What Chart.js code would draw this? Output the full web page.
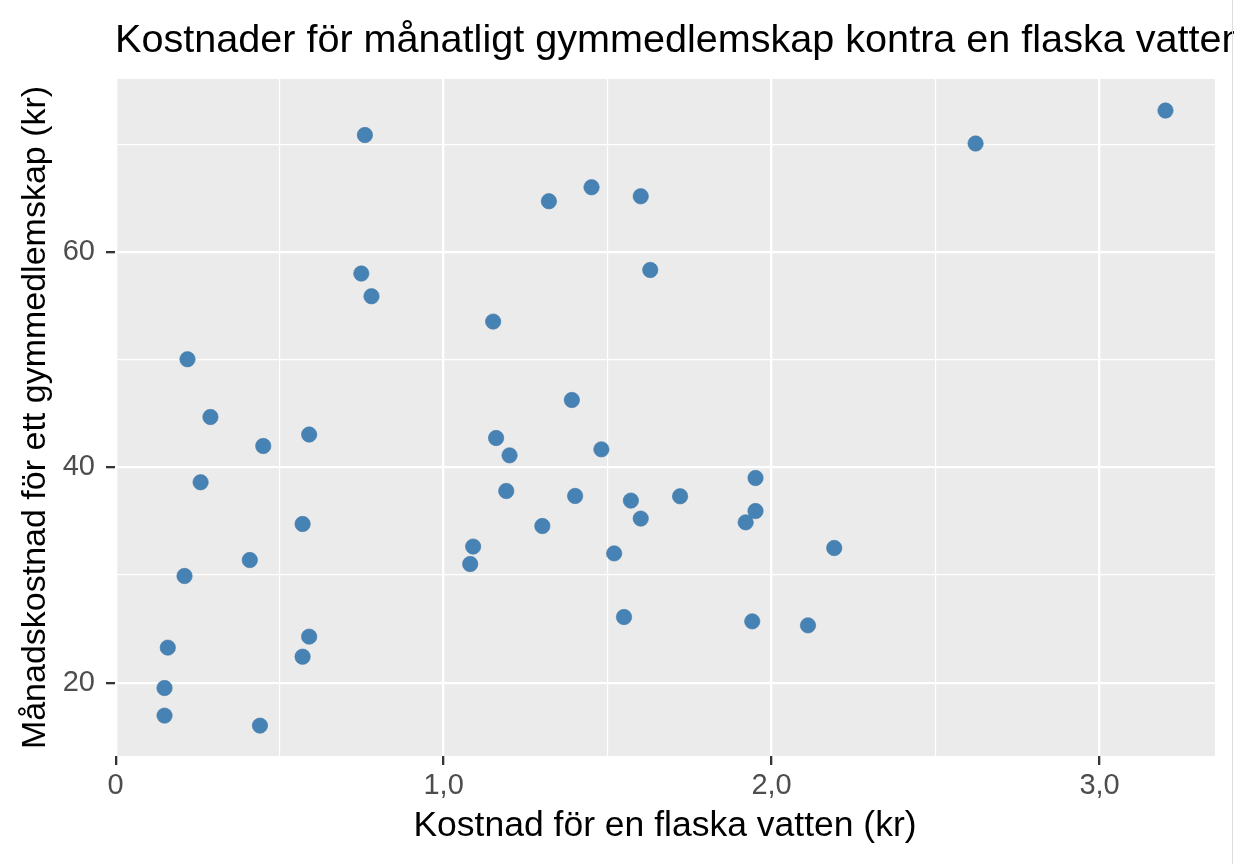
<!DOCTYPE html>
<html>
<head>
<meta charset="utf-8">
<script src="https://cdn.jsdelivr.net/npm/chart.js@4.4.1/dist/chart.umd.min.js"></script>
<style>
  html, body { margin: 0; padding: 0; background: #ffffff; }
  #wrap { width: 1234px; height: 864px; position: relative; }
</style>
</head>
<body>
<div id="wrap"><canvas id="c" width="1234" height="864"></canvas></div>
<script>
// ---- data ----
const chartTitle = 'Kostnader för månatligt gymmedlemskap kontra en flaska vatten';
const xAxisTitle = 'Kostnad för en flaska vatten (kr)';
const yAxisTitle = 'Månadskostnad för ett gymmedlemskap (kr)';

const waterCost = [0.149, 0.149, 0.159, 0.210, 0.219, 0.259, 0.289, 0.409, 0.440, 0.450,
                   0.570, 0.570, 0.590, 0.590, 0.749, 0.760, 0.780, 1.081, 1.090, 1.151,
                   1.160, 1.191, 1.201, 1.301, 1.321, 1.391, 1.401, 1.451, 1.481, 1.520,
                   1.550, 1.571, 1.601, 1.601, 1.630, 1.721, 1.921, 1.941, 1.951, 1.951,
                   2.111, 2.191, 2.622, 3.201];
const gymCost   = [16.95, 19.51, 23.26, 29.91, 50.03, 38.61, 44.67, 31.39, 16.02, 41.98,
                   34.74, 22.42, 24.28, 43.04, 57.99, 70.85, 55.88, 31.02, 32.64, 53.53,
                   42.72, 37.80, 41.11, 34.55, 64.70, 46.25, 37.34, 66.00, 41.67, 32.01,
                   26.10, 36.91, 35.24, 65.16, 58.32, 37.31, 34.89, 25.70, 39.01, 35.94,
                   25.33, 32.51, 70.06, 73.12];

const xTickValues = [0, 1, 2, 3];
const xTickLabels = ['0', '1,0', '2,0', '3,0'];
const xMinorValues = [0.5, 1.5, 2.5];
const yTickValues = [20, 40, 60];
const yTickLabels = ['20', '40', '60'];
const yMinorValues = [30, 50, 70];

const xLimits = [-0.002, 3.352];
const yLimits = [13.2, 76.05];

// ---- helpers ----
const points = waterCost.map((x, i) => ({ x: x, y: gymCost[i] }));
const isMajor = (vals, v) => vals.some(m => Math.abs(m - v) < 1e-9);
function labelFor(vals, labels, v) {
  const i = vals.findIndex(m => Math.abs(m - v) < 1e-9);
  return i >= 0 ? labels[i] : '';
}

const FONT = "'Liberation Sans', Arial, Helvetica, sans-serif";

const panelPlugin = {
  id: 'panel',
  beforeDraw(chart) {
    const { ctx, chartArea: a } = chart;
    ctx.save();
    ctx.fillStyle = '#EBEBEB';
    ctx.fillRect(a.left, a.top, a.right - a.left, a.bottom - a.top);
    ctx.restore();
  },
  afterDraw(chart) {
    const { ctx, chartArea: a } = chart;
    ctx.save();
    ctx.fillStyle = '#000000';
    ctx.font = '39.6px ' + FONT;
    ctx.textAlign = 'left';
    ctx.textBaseline = 'alphabetic';
    ctx.fillText(chartTitle, a.left, 52);
    ctx.strokeStyle = '#dcdcdc';
    ctx.lineWidth = 1;
    ctx.beginPath();
    ctx.moveTo(1232.5, 0);
    ctx.lineTo(1232.5, 864);
    ctx.stroke();
    ctx.restore();
  }
};

new Chart(document.getElementById('c'), {
  type: 'scatter',
  data: {
    datasets: [{
      data: points,
      backgroundColor: '#4682B4',
      borderColor: '#4179A8',
      borderWidth: 0.6,
      pointRadius: 7.7,
      pointHoverRadius: 7.7
    }]
  },
  options: {
    responsive: false,
    animation: false,
    devicePixelRatio: 1,
    layout: { padding: { top: 79, right: 19, left: 0, bottom: 0 } },
    plugins: {
      legend: { display: false },
      title: { display: false },
      tooltip: { enabled: false }
    },
    scales: {
      x: {
        type: 'linear',
        min: xLimits[0],
        max: xLimits[1],
        afterBuildTicks(scale) {
          scale.ticks = xTickValues.concat(xMinorValues).sort((a, b) => a - b).map(v => ({ value: v }));
        },
        afterFit(scale) { scale.height = 108; },
        ticks: {
          autoSkip: false,
          maxRotation: 0,
          padding: 3.5,
          color: '#4D4D4D',
          font: { family: FONT, size: 29 },
          callback: (v) => labelFor(xTickValues, xTickLabels, v)
        },
        grid: {
          color: '#FFFFFF',
          lineWidth: (c) => isMajor(xTickValues, c.tick ? c.tick.value : NaN) ? 2.3 : 1.15,
          tickColor: (c) => isMajor(xTickValues, c.tick ? c.tick.value : NaN) ? '#333333' : 'rgba(0,0,0,0)',
          tickWidth: 2.3,
          tickLength: 9,
          drawTicks: true
        },
        border: { display: false },
        title: {
          display: true,
          text: xAxisTitle,
          color: '#000000',
          font: { family: FONT, size: 35.5 },
          padding: { top: 0, bottom: 16 }
        }
      },
      y: {
        type: 'linear',
        min: yLimits[0],
        max: yLimits[1],
        afterBuildTicks(scale) {
          scale.ticks = yTickValues.concat(yMinorValues).sort((a, b) => a - b).map(v => ({ value: v }));
        },
        afterFit(scale) { scale.width = 115; },
        ticks: {
          autoSkip: false,
          padding: 11,
          color: '#4D4D4D',
          font: { family: FONT, size: 29 },
          callback: (v) => labelFor(yTickValues, yTickLabels, v)
        },
        grid: {
          color: '#FFFFFF',
          lineWidth: (c) => isMajor(yTickValues, c.tick ? c.tick.value : NaN) ? 2.3 : 1.15,
          tickColor: (c) => isMajor(yTickValues, c.tick ? c.tick.value : NaN) ? '#333333' : 'rgba(0,0,0,0)',
          tickWidth: 2.3,
          tickLength: 9,
          drawTicks: true
        },
        border: { display: false },
        title: {
          display: true,
          text: yAxisTitle,
          color: '#000000',
          font: { family: FONT, size: 34 },
          padding: { top: 15, bottom: 0 }
        }
      }
    }
  },
  plugins: [panelPlugin]
});
</script>
</body>
</html>
